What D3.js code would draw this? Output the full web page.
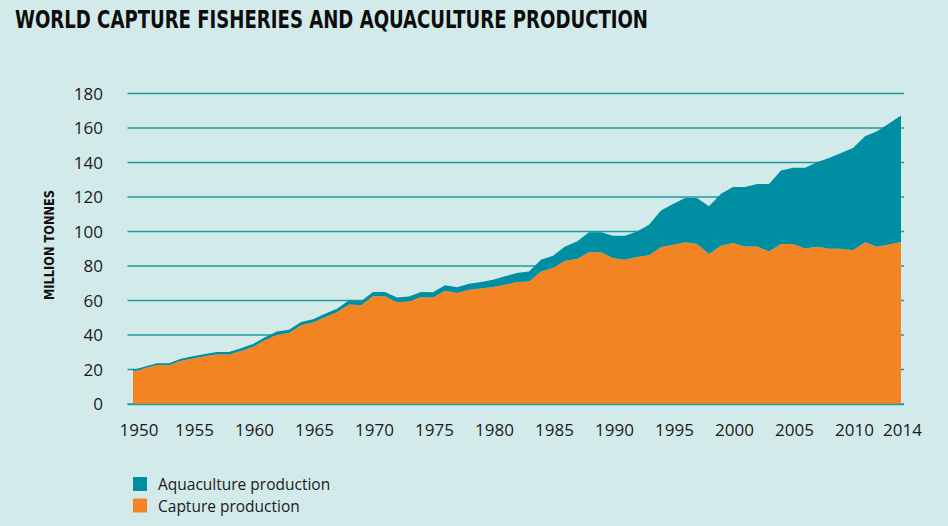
<!DOCTYPE html>
<html>
<head>
<meta charset="utf-8">
<script src="https://cdn.jsdelivr.net/npm/d3@7"></script>
<style>
  html, body { margin: 0; padding: 0; background: #d3eaea; }
  svg { display: block; }
</style>
</head>
<body>
<svg id="chart" width="948" height="526"></svg>
<script>
const years = d3.range(1950, 2015);
const capture = [
  18.8, 20.7, 22.6, 22.5, 25.1, 26.4, 27.7, 28.8, 28.7, 30.7,
  33.1, 37.0, 40.2, 41.1, 45.7, 47.2, 50.3, 53.2, 57.7, 57.3,
  62.5, 62.5, 59.0, 59.4, 62.1, 61.8, 65.6, 64.3, 66.2, 67.0,
  67.8, 69.1, 70.7, 71.0, 76.8, 78.8, 83.0, 84.0, 87.9, 87.9,
  84.6, 83.6, 85.2, 86.3, 91.0, 92.3, 93.7, 92.7, 86.9, 91.7,
  93.3, 91.3, 91.3, 88.4, 92.7, 92.7, 90.2, 91.2, 90.0, 90.0,
  89.2, 93.7, 91.2, 92.5, 93.9
];
const aquaculture = [
  0.9, 1.0, 1.0, 1.1, 1.2, 1.3, 1.3, 1.4, 1.5, 1.6,
  1.7, 1.7, 1.8, 1.9, 1.9, 2.0, 2.0, 2.0, 2.5, 2.3,
  2.5, 2.5, 2.7, 2.9, 2.9, 3.0, 3.3, 3.4, 3.5, 3.7,
  4.2, 4.9, 5.2, 5.8, 6.8, 7.1, 8.3, 10.2, 11.6, 11.6,
  12.9, 13.9, 14.8, 17.6, 21.2, 23.7, 25.7, 26.7, 27.7, 30.2,
  32.5, 34.5, 36.2, 39.1, 42.6, 44.3, 46.8, 48.9, 52.6, 55.5,
  59.2, 61.5, 66.9, 70.1, 73.3
];
const seriesNames = ["Capture production", "Aquaculture production"];
const yTicks = [0, 20, 40, 60, 80, 100, 120, 140, 160, 180];
const xTicks = [1950, 1955, 1960, 1965, 1970, 1975, 1980, 1985, 1990, 1995, 2000, 2005, 2010, 2014];
const titleText = "WORLD CAPTURE FISHERIES AND AQUACULTURE PRODUCTION";
const yTitle = "MILLION TONNES";

const colors = { "Capture production": "#f38423", "Aquaculture production": "#008ea2" };
const gridColor = "#1f9a9e";

const svg = d3.select("#chart");
const x = d3.scaleLinear().domain([1950, 2014]).range([133, 901]);
const y = d3.scaleLinear().domain([0, 180]).range([404, 93.5]);

const table = years.map((yr, i) => ({ year: yr, "Capture production": capture[i], "Aquaculture production": aquaculture[i] }));
const stack = d3.stack().keys(seriesNames);
const layers = stack(table);

// title
svg.append("text")
  .attr("x", 15).attr("y", 28)
  .attr("font-family", "'DejaVu Sans Condensed', 'Liberation Sans Narrow', sans-serif")
  .attr("font-weight", "bold")
  .attr("font-size", 25)
  .attr("textLength", 633)
  .attr("lengthAdjust", "spacingAndGlyphs")
  .attr("fill", "#0d0d0d")
  .text(titleText);

// gridlines
const grid = svg.append("g");
grid.selectAll("line").data(yTicks).join("line")
  .attr("x1", 127.5).attr("x2", 904)
  .attr("y1", d => y(d)).attr("y2", d => y(d))
  .attr("stroke", gridColor).attr("stroke-width", 1.3);

// areas
const area = d3.area()
  .x(d => x(d.data.year))
  .y0(d => y(d[0]))
  .y1(d => y(d[1]))
  .curve(d3.curveLinear);

svg.append("g").selectAll("path").data(layers).join("path")
  .attr("d", area)
  .attr("fill", d => colors[d.key]);

// zero line on top
svg.append("line")
  .attr("x1", 127.5).attr("x2", 904)
  .attr("y1", y(0) + 0.5).attr("y2", y(0) + 0.5)
  .attr("stroke", gridColor).attr("stroke-width", 1.3);

// y tick labels
svg.append("g").selectAll("text").data(yTicks).join("text")
  .attr("x", 103).attr("y", d => y(d))
  .attr("dy", "0.36em")
  .attr("text-anchor", "end")
  .attr("font-family", "'Open Sans', sans-serif")
  .attr("font-size", 17)
  .attr("fill", "#1a1a1a")
  .text(d => d);

// x tick labels
svg.append("g").selectAll("text").data(xTicks).join("text")
  .attr("x", d => x(d) + (d === 1950 ? 6 : 1.5))
  .attr("y", 436)
  .attr("text-anchor", "middle")
  .attr("font-family", "'Open Sans', sans-serif")
  .attr("font-size", 17)
  .attr("fill", "#1a1a1a")
  .text(d => d);

// y axis title
svg.append("text")
  .attr("transform", "translate(54,245) rotate(-90)")
  .attr("text-anchor", "middle")
  .attr("font-family", "'DejaVu Sans Condensed', 'Liberation Sans Narrow', sans-serif")
  .attr("font-weight", "bold")
  .attr("font-size", 14)
  .attr("textLength", 110)
  .attr("lengthAdjust", "spacingAndGlyphs")
  .attr("fill", "#111")
  .text(yTitle);

// legend
const legendItems = ["Aquaculture production", "Capture production"];
const lg = svg.append("g");
legendItems.forEach((name, i) => {
  lg.append("rect")
    .attr("x", 133).attr("y", 477 + i * 21.5)
    .attr("width", 14).attr("height", 14)
    .attr("fill", colors[name]);
  lg.append("text")
    .attr("x", 158).attr("y", 490 + i * 21.5)
    .attr("font-family", "'Open Sans', sans-serif")
    .attr("font-size", 15.5)
    .attr("fill", "#1a1a1a")
    .text(name);
});
</script>
</body>
</html>
